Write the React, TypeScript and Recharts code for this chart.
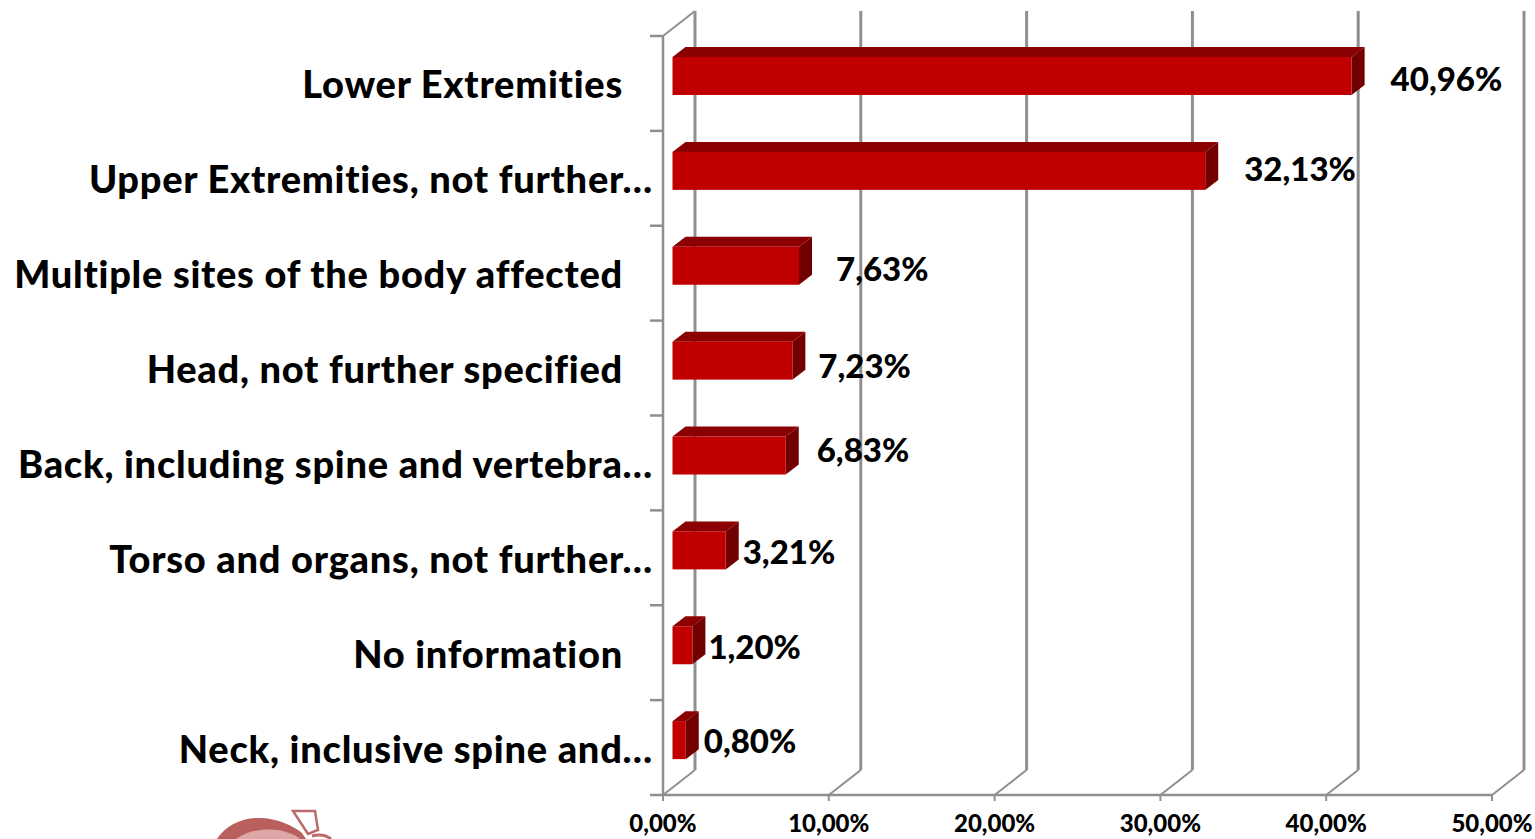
import { BarChart, Bar, XAxis, YAxis, CartesianGrid, LabelList } from 'recharts';

const categories = [
  'Lower Extremities',
  'Upper Extremities, not further…',
  'Multiple sites of the body affected',
  'Head, not further specified',
  'Back, including spine and vertebra…',
  'Torso and organs, not further…',
  'No information',
  'Neck, inclusive spine and…',
];
const shares = [40.96, 32.13, 7.63, 7.23, 6.83, 3.21, 1.2, 0.8];
const xTicks = [0, 10, 20, 30, 40, 50];

// hand placed label offsets from the bar end, one per bar
const labelDx = [26, 26, 24, 13, 18, 4, 3, 5];
const labelDy = [2, -3, 2, 4, -7, 1, 1, 0];

const data = categories.map((name, i) => ({ name, share: shares[i] }));

const WIDTH = 1535;
const HEIGHT = 839;
const GREY = '#8f8f8f';
const FONT = 'Lato, sans-serif';

// depth of the fake 3D box
const WALL_DX = 32;
const WALL_DY = 25;
// where a bar sits inside that depth
const BAR_DX = 9.5;
const BAR_DY = 7;
const BAR_DEPTH_X = 13;
const BAR_DEPTH_Y = 10;

const pct = (v: number, digits = 2) => `${v.toFixed(digits).replace('.', ',')}%`;

function Bar3D({ x, y, width, height }: any) {
  const left = x + BAR_DX;
  const top = y - BAR_DY;
  const right = left + width;
  const bottom = top + height;
  return (
    <g>
      <polygon
        points={`${left},${top} ${left + BAR_DEPTH_X},${top - BAR_DEPTH_Y} ${right + BAR_DEPTH_X},${top - BAR_DEPTH_Y} ${right},${top}`}
        fill="#8b0000"
      />
      <polygon
        points={`${right},${top} ${right + BAR_DEPTH_X},${top - BAR_DEPTH_Y} ${right + BAR_DEPTH_X},${bottom - BAR_DEPTH_Y} ${right},${bottom}`}
        fill="#720000"
      />
      <rect x={left} y={top} width={width} height={height} fill="#c00000" />
    </g>
  );
}

function ValueLabel({ x, y, width, height, value, index }: any) {
  return (
    <text
      x={x + width + BAR_DX + BAR_DEPTH_X + labelDx[index]}
      y={y - BAR_DY + height / 2 + labelDy[index]}
      fontFamily={FONT}
      fontWeight={900}
      fontSize={33}
      fill="#000"
      dominantBaseline="central"
    >
      {pct(value)}
    </text>
  );
}

function CategoryTick({ x, y, payload, index, visibleTicksCount }: any) {
  const band = (795 - 36) / 8;
  const truncated = payload.value.endsWith('…');
  const isLast = index === visibleTicksCount - 1;
  return (
    <g>
      <line x1={x - 3} x2={x + 10} y1={y - band / 2} y2={y - band / 2} stroke={GREY} strokeWidth={2.5} />
      {isLast && <line x1={x - 3} x2={x + 10} y1={y + band / 2} y2={y + band / 2} stroke={GREY} strokeWidth={2.5} />}
      <text
        x={truncated ? x : x - 30}
        y={y}
        textAnchor="end"
        dominantBaseline="central"
        fontFamily={FONT}
        fontWeight={900}
        fontSize={38}
        letterSpacing={0.75}
        style={{ fontVariantLigatures: 'none' }}
        fill="#000"
      >
        {payload.value}
      </text>
    </g>
  );
}

// back wall line plus the floor diagonal for one gridline
function WallLine({ x1, y1, y2 }: any) {
  const top = Math.min(y1, y2);
  const bottom = Math.max(y1, y2);
  return (
    <g fill="none" stroke={GREY}>
      <line x1={x1 + WALL_DX} x2={x1 + WALL_DX} y1={top - WALL_DY} y2={bottom - WALL_DY} strokeWidth={3} />
      <line x1={x1} x2={x1 + WALL_DX} y1={bottom} y2={bottom - WALL_DY} strokeWidth={2} />
      {x1 === 663 && (
        <>
          <line x1={x1} x2={x1 + WALL_DX} y1={top} y2={top - WALL_DY} strokeWidth={2} />
          <line x1={x1} x2={x1} y1={top} y2={bottom} strokeWidth={2.5} />
        </>
      )}
    </g>
  );
}

function Logo() {
  return (
    <g>
      <path d="M217 839 C226 825 243 817 262 818 C278 819 292 825 302 833 L306 839 Z" fill="#b9605f" />
      <path d="M236 839 C247 831 262 828 278 830 C288 832 296 835 300 839 Z" fill="#dca6a4" />
      <path d="M293 811 L315 811 L318 830 L308 834 Z" fill="#fff" stroke="#bb6b6a" strokeWidth={2.5} />
      <path d="M312 836 C320 834 326 835 331 839" fill="none" stroke="#bb6b6a" strokeWidth={3} />
    </g>
  );
}

export default function App() {
  return (
    <div style={{ position: 'absolute', left: 0, top: 0, width: WIDTH, height: HEIGHT, overflow: 'hidden', background: '#fff' }}>
      <BarChart
        width={WIDTH}
        height={HEIGHT}
        data={data}
        layout="vertical"
        barCategoryGap={0}
        margin={{ top: 36, right: 43, bottom: 0, left: 0 }}
      >
        <CartesianGrid horizontal={false} vertical={<WallLine />} />
        <XAxis
          type="number"
          domain={[0, 50]}
          ticks={xTicks}
          interval={0}
          tickFormatter={(v) => pct(v)}
          tick={{ fontFamily: FONT, fontWeight: 900, fontSize: 24, fill: '#000' }}
          tickLine={{ stroke: GREY, strokeWidth: 2 }}
          tickSize={6}
          tickMargin={14}
          axisLine={{ stroke: GREY, strokeWidth: 2.5 }}
          height={44}
        />
        <YAxis
          type="category"
          dataKey="name"
          width={663}
          interval={0}
          tick={<CategoryTick />}
          tickLine={false}
          axisLine={false}
          tickMargin={10}
          tickSize={0}
        />
        <Bar dataKey="share" barSize={38} isAnimationActive={false} shape={<Bar3D />}>
          <LabelList dataKey="share" content={<ValueLabel />} />
        </Bar>
        <Logo />
      </BarChart>
    </div>
  );
}
